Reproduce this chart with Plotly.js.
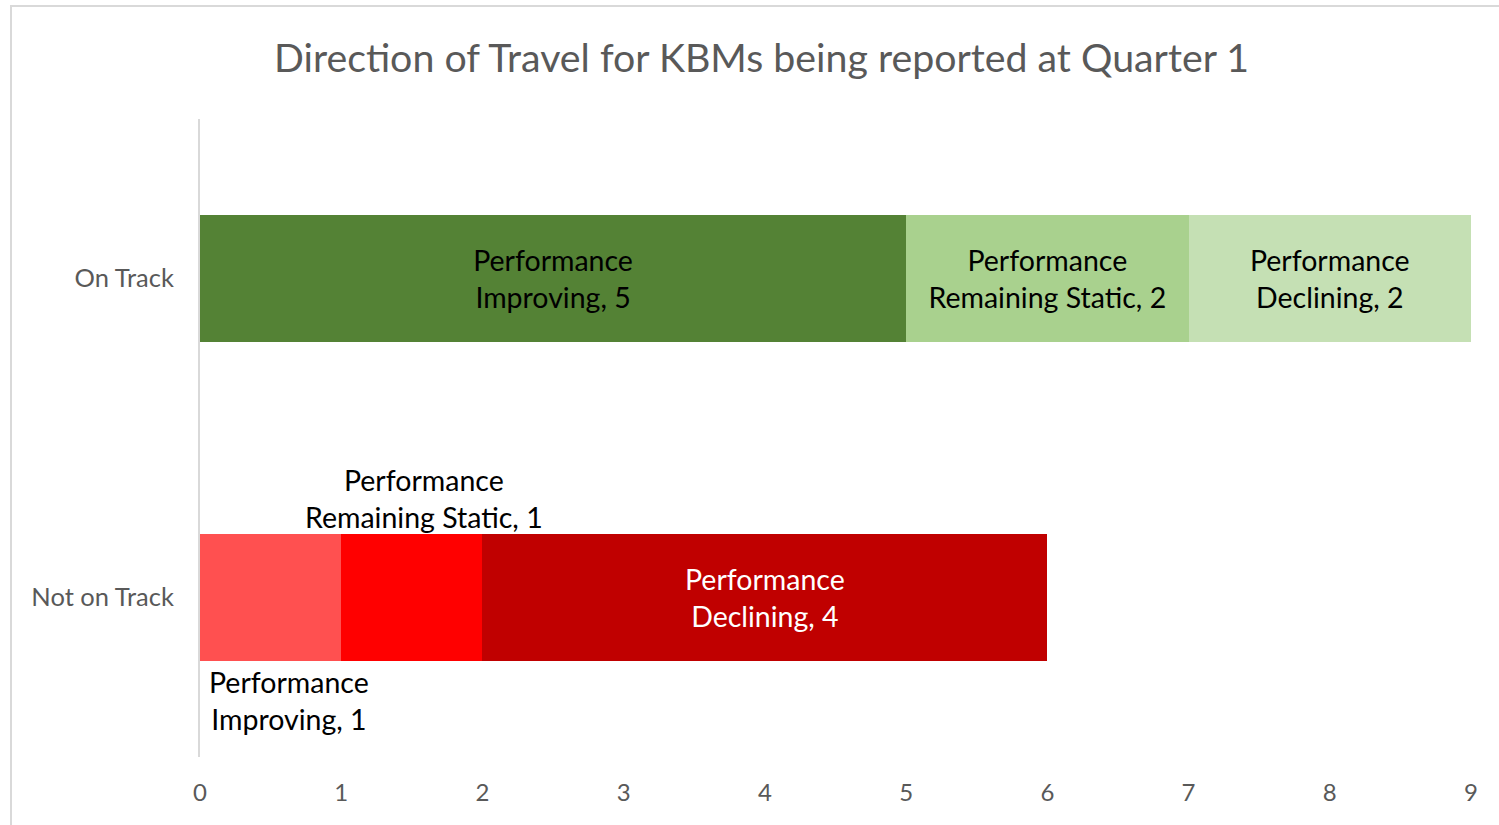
<!DOCTYPE html>
<html>
<head>
<meta charset="utf-8">
<script src="https://cdn.plot.ly/plotly-3.0.1.min.js"></script>
<style>
  html, body { margin: 0; padding: 0; background: #fff; }
  #frame {
    position: absolute; left: 10px; top: 5px; width: 1600px; height: 900px;
    border: 2px solid #d9d9d9; box-sizing: border-box; pointer-events: none;
  }
  #chart { width: 1499px; height: 825px; }
</style>
</head>
<body>
<div id="chart"></div>
<div id="frame"></div>
<script>
  // data
  const categories = ["Not on Track", "On Track"];
  const improving = [1, 5];
  const remainingStatic = [1, 2];
  const declining = [4, 2];

  const improvingColors = ["#FF5050", "#548235"];
  const staticColors = ["#FF0000", "#A9D18E"];
  const decliningColors = ["#C00000", "#C5E0B4"];

  const FONT = "Lato, 'Open Sans', sans-serif";
  const LABEL_SIZE = 28.5;

  let label = (name, v) => `Performance<br>${name}, ${v}`;

  // labels that sit inside the bar; the small red ones go outside via annotations
  let makeTrace = (name, values, colors, textColors, inside) => ({
    type: "bar",
    orientation: "h",
    name: name,
    y: categories,
    x: values,
    marker: { color: colors, line: { width: 0 } },
    text: values.map((v, i) => (inside[i] ? label(name, v) : "")),
    textposition: "inside",
    insidetextanchor: "middle",
    textangle: 0,
    constraintext: "none",
    insidetextfont: { family: FONT, size: LABEL_SIZE, color: textColors },
    hoverinfo: "x+y+name",
  });

  let traces = [
    makeTrace("Improving", improving, improvingColors, ["#000", "#000"], [false, true]),
    makeTrace("Remaining Static", remainingStatic, staticColors, ["#000", "#000"], [false, true]),
    makeTrace("Declining", declining, decliningColors, ["#fff", "#000"], [true, true]),
  ];

  // outside labels for the small "Not on Track" segments
  let annotations = [
    {
      x: improving[0] / 2,
      y: categories[0],
      text: label("Improving", improving[0]),
      yshift: -65,
      xshift: 18,
      yanchor: "top",
    },
    {
      x: improving[0] + remainingStatic[0] / 2,
      y: categories[0],
      text: label("Remaining Static", remainingStatic[0]),
      yshift: 62,
      xshift: 12,
      yanchor: "bottom",
    },
  ].map((a) => ({
    ...a,
    xref: "x",
    yref: "y",
    showarrow: false,
    xanchor: "center",
    font: { family: FONT, size: LABEL_SIZE, color: "#000" },
  }));

  let layout = {
    width: 1499,
    height: 825,
    margin: { l: 200, r: 28, t: 119, b: 68 },
    paper_bgcolor: "#fff",
    plot_bgcolor: "#fff",
    showlegend: false,
    barmode: "stack",
    bargap: 0.6,
    title: {
      text: "Direction of Travel for KBMs being reported at Quarter 1",
      font: { family: FONT, size: 39.3, color: "#595959" },
      x: 0.508,
      xanchor: "center",
      y: 0.93,
      yanchor: "middle",
    },
    xaxis: {
      range: [0, 9],
      dtick: 1,
      showgrid: false,
      zeroline: false,
      showline: false,
      ticks: "outside",
      ticklen: 14,
      tickcolor: "rgba(0,0,0,0)",
      tickfont: { family: FONT, size: 24, color: "#595959" },
    },
    yaxis: {
      showgrid: false,
      zeroline: false,
      showline: true,
      linecolor: "#d9d9d9",
      linewidth: 2,
      ticks: "outside",
      ticklen: 19,
      tickcolor: "rgba(0,0,0,0)",
      tickfont: { family: FONT, size: 25.5, color: "#595959" },
    },
    annotations: annotations,
  };

  Plotly.newPlot("chart", traces, layout, { displayModeBar: false, staticPlot: true });
</script>
</body>
</html>
